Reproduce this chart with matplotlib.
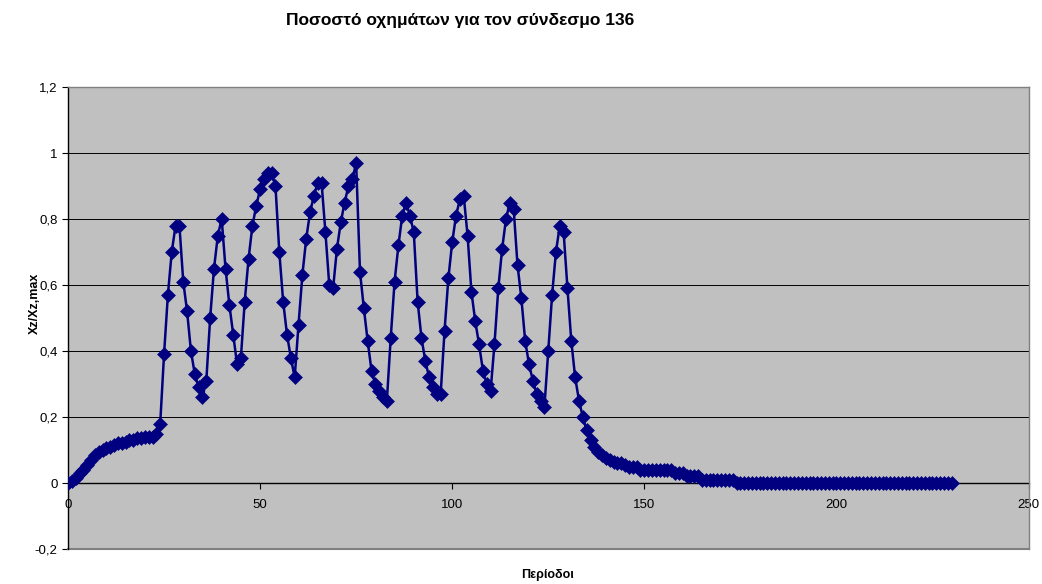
import numpy as np
import matplotlib
matplotlib.use('Agg')
from matplotlib import pyplot as plt
from matplotlib.ticker import FuncFormatter

plt.rcParams['font.family'] = ['Liberation Sans', 'DejaVu Sans']

# share of vehicles on link 136, one value per period
ramp = [0.00, 0.005, 0.015, 0.03, 0.04, 0.055, 0.07, 0.085, 0.095, 0.10,
        0.105, 0.11, 0.115, 0.12, 0.12, 0.125, 0.13, 0.13, 0.135, 0.135,
        0.14, 0.14, 0.14, 0.15, 0.18]
waves_a = [0.39, 0.57, 0.70, 0.78, 0.78, 0.61, 0.52, 0.40, 0.33, 0.29,
           0.26, 0.31, 0.50, 0.65, 0.75, 0.80, 0.65, 0.54, 0.45, 0.36,
           0.38, 0.55, 0.68, 0.78, 0.84, 0.89, 0.92, 0.94, 0.94, 0.90,
           0.70, 0.55, 0.45, 0.38, 0.32, 0.48, 0.63, 0.74, 0.82, 0.87,
           0.91, 0.91, 0.76, 0.60, 0.59, 0.71, 0.79, 0.85, 0.90, 0.92,
           0.97]
waves_b = [0.64, 0.53, 0.43, 0.34, 0.30, 0.28, 0.26, 0.25, 0.44, 0.61,
           0.72, 0.81, 0.85, 0.81, 0.76, 0.55, 0.44, 0.37, 0.32, 0.29,
           0.27, 0.27, 0.46, 0.62, 0.73, 0.81, 0.86, 0.87, 0.75, 0.58,
           0.49, 0.42, 0.34, 0.30, 0.28, 0.42, 0.59, 0.71, 0.80, 0.85,
           0.83, 0.66, 0.56, 0.43, 0.36, 0.31, 0.27, 0.25, 0.23, 0.40,
           0.57, 0.70, 0.78, 0.76, 0.59, 0.43, 0.32, 0.25, 0.20, 0.16]
decay = [0.13, 0.11, 0.095, 0.085, 0.075, 0.07, 0.065, 0.06, 0.06, 0.055,
         0.05, 0.05, 0.05, 0.04, 0.04, 0.04, 0.04, 0.04, 0.04, 0.04,
         0.04, 0.04, 0.03, 0.03, 0.03, 0.02, 0.02, 0.02, 0.02, 0.01,
         0.01, 0.01, 0.01, 0.01, 0.01, 0.01, 0.01, 0.01]
empty = [0.0, 0.0, 0.0, 0.0, 0.0, 0.0, 0.0, 0.0, 0.0, 0.0,
         0.0, 0.0, 0.0, 0.0, 0.0, 0.0, 0.0, 0.0, 0.0, 0.0,
         0.0, 0.0, 0.0, 0.0, 0.0, 0.0, 0.0, 0.0, 0.0, 0.0,
         0.0, 0.0, 0.0, 0.0, 0.0, 0.0, 0.0, 0.0, 0.0, 0.0,
         0.0, 0.0, 0.0, 0.0, 0.0, 0.0, 0.0, 0.0, 0.0, 0.0,
         0.0, 0.0, 0.0, 0.0, 0.0, 0.0, 0.0]

ratio = ramp + waves_a + waves_b + decay + empty
periods = np.arange(len(ratio))

x_ticks = [0, 50, 100, 150, 200, 250]
y_ticks = [-0.2, 0, 0.2, 0.4, 0.6, 0.8, 1, 1.2]

fig = plt.figure(figsize=(10.42, 5.84), dpi=100)
ax = fig.add_axes([68 / 1042, 1 - 549 / 584, 960.5 / 1042, 462 / 584])
ax.set_facecolor('#C0C0C0')

ax.plot(periods, ratio, color='#000080', lw=1.8, marker='D', markersize=6.8,
        markerfacecolor='#000080', markeredgecolor='#000080', markeredgewidth=0.4,
        zorder=3)

ax.set_xlim(0, 250)
ax.set_ylim(-0.2, 1.2)
ax.set_xticks(x_ticks)
ax.set_yticks(y_ticks)

# Excel style decimal comma on the y axis
ax.yaxis.set_major_formatter(FuncFormatter(lambda v, _: ('%g' % round(v, 1)).replace('.', ',')))

for y in y_ticks[1:-1]:
  ax.axhline(y, color='#000000', lw=0.7, zorder=1)

# plot-area frame in grey, x axis crossing at zero
for side in ('top', 'right'):
  ax.spines[side].set_color('#808080')
  ax.spines[side].set_linewidth(1.0)
ax.spines['left'].set_color('#000000')
ax.spines['left'].set_linewidth(1.0)
ax.spines['bottom'].set_position(('data', 0))
ax.spines['bottom'].set_color('#000000')
ax.spines['bottom'].set_linewidth(1.0)
ax.spines['bottom'].set_zorder(2)
ax.axhline(-0.2, color='#808080', lw=1.5, zorder=2, clip_on=False)

ax.tick_params(axis='both', direction='out', length=4, width=0.8, labelsize=9.5,
               colors='#000000')
ax.tick_params(axis='x', pad=7.5)
ax.tick_params(axis='y', pad=3.5)

fig.text(460 / 1042, 1 - 21 / 584, 'Ποσοστό οχημάτων για τον σύνδεσμο 136',
         ha='center', va='center', fontsize=12.5, fontweight='bold')
fig.text(548 / 1042, 1 - 575 / 584, 'Περίοδοι', ha='center', va='center',
         fontsize=9, fontweight='bold')
fig.text(35 / 1042, 1 - 303 / 584, 'Xz/Xz,max', ha='center', va='center',
         rotation=90, fontsize=9, fontweight='bold')

fig.savefig('out.png', dpi=100, facecolor='white')
